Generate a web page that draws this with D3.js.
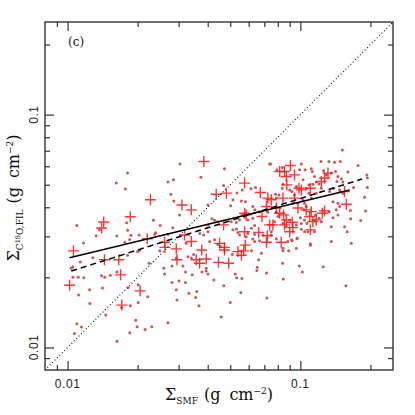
<!DOCTYPE html>
<html>
<head>
<meta charset="utf-8">
<script src="https://cdn.jsdelivr.net/npm/d3@7"></script>
<style>
  body { margin: 0; background: #fff; }
  .tick-label { font-family: "Liberation Sans", Arial, sans-serif; font-size: 12px; fill: #222; letter-spacing: 0.6px; }
  .title { font-family: "DejaVu Serif", serif; font-size: 16px; fill: #111; }
</style>
</head>
<body>
<div id="container"></div>
<script>
// axis ranges and ticks
const xDomain = [0.008, 0.25];
const yDomain = [0.008, 0.25];
const majorTicks = [0.01, 0.1];
const majorLabels = ["0.01", "0.1"];
const minorTicks = [0.009, 0.02, 0.03, 0.04, 0.05, 0.06, 0.07, 0.08, 0.09, 0.2];

// filament pixels: [Sigma_SMF, Sigma_C18O,FIL]
const dotPoints = [
  [0.0181, 0.0561], [0.0162, 0.0508], [0.0177, 0.0479], [0.0270, 0.0514], [0.01096, 0.0334],
  [0.01327, 0.0302], [0.01171, 0.0281], [0.01628, 0.0301], [0.01792, 0.0343], [0.0181, 0.0319],
  [0.01871, 0.0303], [0.0203, 0.0304], [0.0234, 0.0352], [0.0250, 0.0334], [0.0239, 0.0311],
  [0.0237, 0.0306], [0.0185, 0.0291], [0.0176, 0.0283], [0.0270, 0.0306], [0.0137, 0.0320],
  [0.0283, 0.0327], [0.0285, 0.0525], [0.0304, 0.0613], [0.0278, 0.0455], [0.0286, 0.0426],
  [0.0374, 0.0538], [0.0401, 0.0409], [0.0303, 0.0371], [0.01284, 0.0243], [0.01134, 0.0233],
  [0.01054, 0.0222], [0.01037, 0.0219], [0.0181, 0.0249], [0.0204, 0.0261], [0.0200, 0.0258],
  [0.0249, 0.0260], [0.0224, 0.0230], [0.0259, 0.0219], [0.0261, 0.0207], [0.01054, 0.0200],
  [0.01111, 0.0200], [0.01174, 0.0199], [0.0140, 0.0203], [0.01445, 0.0200], [0.01526, 0.0204],
  [0.0163, 0.0211], [0.01243, 0.0177], [0.01413, 0.0180], [0.0182, 0.0181], [0.0201, 0.0186],
  [0.01115, 0.0168], [0.0221, 0.0165], [0.01247, 0.01545], [0.01706, 0.01486], [0.0186, 0.01509],
  [0.0201, 0.0156], [0.01459, 0.01379], [0.01096, 0.01263], [0.01148, 0.01223], [0.01964, 0.01307],
  [0.0199, 0.01226], [0.02154, 0.01195], [0.0230, 0.01226], [0.01071, 0.01148], [0.0185, 0.01155],
  [0.0163, 0.01064], [0.0270, 0.01276], [0.0472, 0.0585], [0.0793, 0.0580], [0.0745, 0.0614],
  [0.0468, 0.0496], [0.0534, 0.0461], [0.0563, 0.0475], [0.0613, 0.0481], [0.0642, 0.0486],
  [0.0782, 0.0455], [0.0788, 0.0438], [0.0513, 0.0431], [0.0558, 0.0426], [0.0502, 0.0406],
  [0.0625, 0.0403], [0.0637, 0.0390], [0.0417, 0.0357], [0.0428, 0.0352], [0.0442, 0.0347],
  [0.0505, 0.0347], [0.0531, 0.0344], [0.0548, 0.0353], [0.0370, 0.0309], [0.0384, 0.0304],
  [0.0401, 0.0314], [0.0513, 0.0320], [0.0539, 0.0312], [0.0548, 0.0304], [0.0595, 0.0309],
  [0.0616, 0.0325], [0.0408, 0.0285], [0.0428, 0.0290], [0.0323, 0.0280], [0.0625, 0.0292],
  [0.0636, 0.0285], [0.0668, 0.0287], [0.1514, 0.0705], [0.1226, 0.0629], [0.1327, 0.0629],
  [0.1402, 0.0625], [0.1485, 0.0629], [0.1768, 0.0605], [0.0993, 0.0580], [0.1049, 0.0580],
  [0.1114, 0.0585], [0.1125, 0.0570], [0.1010, 0.0613], [0.0837, 0.0593], [0.1150, 0.0542],
  [0.1258, 0.0574], [0.1292, 0.0551], [0.1358, 0.0561], [0.1416, 0.0570], [0.1450, 0.0542],
  [0.1600, 0.0567], [0.1932, 0.0551], [0.1940, 0.0534], [0.1500, 0.0530], [0.1436, 0.0516],
  [0.1523, 0.0513], [0.0842, 0.0502], [0.0837, 0.0483], [0.1060, 0.0483], [0.1088, 0.0499],
  [0.1132, 0.0502], [0.1170, 0.0513], [0.1336, 0.0467], [0.1389, 0.0483], [0.1475, 0.0475],
  [0.1693, 0.0486], [0.1940, 0.0486], [0.1887, 0.0442], [0.0900, 0.0475], [0.0920, 0.0467],
  [0.0944, 0.0452], [0.1450, 0.0416], [0.1475, 0.0403], [0.1042, 0.0416], [0.1060, 0.0403],
  [0.1327, 0.0383], [0.1450, 0.0371], [0.1639, 0.0387], [0.1644, 0.0357], [0.1906, 0.0386],
  [0.1162, 0.0371], [0.1150, 0.0353], [0.1000, 0.0361], [0.1042, 0.0353], [0.1067, 0.0341],
  [0.1380, 0.0361], [0.1358, 0.0330], [0.1010, 0.0322], [0.1042, 0.0314], [0.0967, 0.0293],
  [0.0923, 0.0287], [0.1104, 0.0279], [0.1358, 0.0285], [0.1655, 0.0280], [0.0738, 0.0613],
  [0.1816, 0.0351], [0.1230, 0.0347], [0.1202, 0.0359], [0.1036, 0.0390], [0.1078, 0.0314],
  [0.1150, 0.0314], [0.0961, 0.0336], [0.1254, 0.0222], [0.1020, 0.0211], [0.0990, 0.0224],
  [0.1569, 0.0184], [0.0845, 0.0197], [0.0839, 0.0230], [0.0718, 0.0163], [0.0716, 0.0209],
  [0.0650, 0.0214], [0.0653, 0.0221], [0.0555, 0.0172], [0.0525, 0.0207], [0.0532, 0.0199],
  [0.0469, 0.0184], [0.0500, 0.0156], [0.0457, 0.0135], [0.0425, 0.0195], [0.0394, 0.0219],
  [0.0401, 0.0207], [0.0442, 0.0277], [0.0454, 0.0271], [0.0842, 0.0267], [0.0788, 0.0293],
  [0.0750, 0.0304], [0.0636, 0.0306], [0.0585, 0.0299], [0.0531, 0.0323], [0.0884, 0.0285],
  [0.0970, 0.0295], [0.0915, 0.0290], [0.0401, 0.0336], [0.0595, 0.0353], [0.0625, 0.0359],
  [0.0636, 0.0334], [0.0668, 0.0383], [0.0725, 0.0381], [0.0788, 0.0381], [0.1010, 0.0341],
  [0.0281, 0.0224], [0.0313, 0.0224], [0.0321, 0.0211], [0.0329, 0.0245], [0.0340, 0.0242],
  [0.0348, 0.0251], [0.0378, 0.0211], [0.0394, 0.0213], [0.0343, 0.0205], [0.0510, 0.0251],
  [0.0662, 0.0238], [0.0680, 0.0254], [0.0616, 0.0260], [0.0561, 0.0198], [0.0281, 0.0190],
  [0.0301, 0.0193], [0.0321, 0.0190], [0.0293, 0.0177], [0.0332, 0.0171], [0.0355, 0.0164],
  [0.0295, 0.0160], [0.0367, 0.0151], [0.0842, 0.0260], [0.0891, 0.0260], [0.0961, 0.0267],
  [0.1104, 0.0275], [0.0359, 0.0174], [0.0293, 0.0242], [0.1026, 0.0525], [0.1202, 0.0504],
  [0.1230, 0.0483], [0.1170, 0.0460], [0.1088, 0.0460], [0.1114, 0.0438], [0.1026, 0.0431],
  [0.0929, 0.0416], [0.0976, 0.0416], [0.0581, 0.0423], [0.0961, 0.0491], [0.0809, 0.0452],
  [0.0801, 0.0365], [0.0775, 0.0347], [0.0842, 0.0341], [0.0900, 0.0353], [0.0870, 0.0330],
  [0.0750, 0.0314], [0.0690, 0.0304], [0.1523, 0.0460], [0.1380, 0.0423], [0.1548, 0.0330],
  [0.1589, 0.0314], [0.1426, 0.0390]
];

// selected positions, drawn as crosses
const crossPoints = [
  [0.0227, 0.0431], [0.0186, 0.0364], [0.0143, 0.0346], [0.0140, 0.0326], [0.0220, 0.0293],
  [0.0261, 0.0283], [0.0106, 0.0260], [0.0144, 0.0238], [0.0166, 0.0238], [0.0262, 0.0269],
  [0.0169, 0.0205], [0.0102, 0.0185], [0.0205, 0.0175], [0.0171, 0.0152], [0.0385, 0.0629],
  [0.0576, 0.0508], [0.0435, 0.0455], [0.0481, 0.0460], [0.0673, 0.0463], [0.0725, 0.0438],
  [0.0310, 0.0409], [0.0340, 0.0390], [0.0715, 0.0403], [0.0788, 0.0397], [0.0585, 0.0371],
  [0.0684, 0.0365], [0.0738, 0.0336], [0.0468, 0.0336], [0.0318, 0.0304], [0.0340, 0.0285],
  [0.0576, 0.0314], [0.0662, 0.0312], [0.0722, 0.0302], [0.0450, 0.0280], [0.0906, 0.0605],
  [0.0944, 0.0551], [0.0855, 0.0570], [0.0870, 0.0542], [0.1270, 0.0534], [0.1230, 0.0516],
  [0.0875, 0.0499], [0.0986, 0.0483], [0.1010, 0.0475], [0.1104, 0.0483], [0.1548, 0.0467],
  [0.1575, 0.0412], [0.0944, 0.0438], [0.0842, 0.0438], [0.1242, 0.0377], [0.1114, 0.0383],
  [0.1096, 0.0365], [0.0847, 0.0371], [0.0870, 0.0353], [0.0923, 0.0345], [0.0929, 0.0327],
  [0.0855, 0.0336], [0.0900, 0.0314], [0.1132, 0.0347], [0.1104, 0.0320], [0.1270, 0.0386],
  [0.0576, 0.0377], [0.1170, 0.0353], [0.0715, 0.0283], [0.0828, 0.0283], [0.0571, 0.0260],
  [0.0558, 0.0249], [0.0580, 0.0275], [0.0539, 0.0258], [0.0472, 0.0269], [0.0445, 0.0232],
  [0.0492, 0.0230], [0.0394, 0.0240], [0.0293, 0.0265], [0.0295, 0.0238], [0.0377, 0.0262],
  [0.0472, 0.0262], [0.0369, 0.0230], [0.0357, 0.0238], [0.0815, 0.0570], [0.0750, 0.0431],
  [0.0976, 0.0397], [0.1060, 0.0390], [0.1314, 0.0561], [0.0815, 0.0377], [0.0762, 0.0336]
];

// fitted relations: [x0, y0, x1, y1]
const fitSolid = [0.0102, 0.0243, 0.1628, 0.0475];
const fitDashed = [0.01037, 0.0213, 0.1839, 0.0529];

const width = 415, height = 415;
const margin = { top: 22, right: 22, bottom: 45, left: 45 };

const svg = d3.select("#container").append("svg")
  .attr("width", width).attr("height", height);

const x = d3.scaleLog().domain(xDomain).range([margin.left, width - margin.right]);
const y = d3.scaleLog().domain(yDomain).range([height - margin.bottom, margin.top]);
const x0 = margin.left, x1 = width - margin.right, y0 = height - margin.bottom, y1 = margin.top;

// points
svg.append("g").selectAll("circle").data(dotPoints).enter().append("circle")
  .attr("cx", d => x(d[0])).attr("cy", d => y(d[1]))
  .attr("r", 1.5).attr("fill", "#c65858");

const arm = 5.5;
svg.append("g").attr("stroke", "#ff1010").attr("stroke-width", 1.4)
  .attr("stroke-opacity", 0.85)
  .selectAll("path").data(crossPoints).enter().append("path")
  .attr("d", d => {
    const cx = x(d[0]), cy = y(d[1]);
    return `M${cx - arm},${cy}H${cx + arm}M${cx},${cy - arm}V${cy + arm}`;
  });

// one-to-one line
svg.append("line")
  .attr("x1", x(xDomain[0])).attr("y1", y(yDomain[0]))
  .attr("x2", x(xDomain[1])).attr("y2", y(yDomain[1]))
  .attr("stroke", "#111").attr("stroke-width", 1.1).attr("stroke-dasharray", "1,2.4");

svg.append("line")
  .attr("x1", x(fitSolid[0])).attr("y1", y(fitSolid[1]))
  .attr("x2", x(fitSolid[2])).attr("y2", y(fitSolid[3]))
  .attr("stroke", "#000").attr("stroke-width", 1.5);

svg.append("line")
  .attr("x1", x(fitDashed[0])).attr("y1", y(fitDashed[1]))
  .attr("x2", x(fitDashed[2])).attr("y2", y(fitDashed[3]))
  .attr("stroke", "#000").attr("stroke-width", 1.5).attr("stroke-dasharray", "6,4");

// frame and ticks (inward on all four sides)
const axisColor = "#333";
const drawTicks = (sel, axis) => {
  sel.call(axis);
  sel.select(".domain").remove();
  sel.selectAll(".tick line").attr("stroke", axisColor).attr("stroke-width", 1.2);
  sel.selectAll(".tick text").remove();
};
[[majorTicks, 9], [minorTicks, 5]].forEach(([vals, len]) => {
  drawTicks(svg.append("g").attr("transform", `translate(0,${y0})`),
    d3.axisBottom(x).tickValues(vals).tickSize(-len));
  drawTicks(svg.append("g").attr("transform", `translate(0,${y1})`),
    d3.axisTop(x).tickValues(vals).tickSize(-len));
  drawTicks(svg.append("g").attr("transform", `translate(${x0},0)`),
    d3.axisLeft(y).tickValues(vals).tickSize(-len));
  drawTicks(svg.append("g").attr("transform", `translate(${x1},0)`),
    d3.axisRight(y).tickValues(vals).tickSize(-len));
});

svg.append("rect")
  .attr("x", x0).attr("y", y1).attr("width", x1 - x0).attr("height", y0 - y1)
  .attr("fill", "none").attr("stroke", axisColor).attr("stroke-width", 1.4);

// tick labels
svg.append("g").selectAll("text").data(majorTicks).enter().append("text")
  .attr("class", "tick-label")
  .attr("x", d => x(d)).attr("y", y0 + 18)
  .attr("text-anchor", "middle")
  .text((d, i) => majorLabels[i]);

svg.append("g").selectAll("text").data(majorTicks).enter().append("text")
  .attr("class", "tick-label")
  .attr("transform", d => `translate(${x0 - 7},${y(d)}) rotate(-90)`)
  .attr("text-anchor", "middle")
  .text((d, i) => majorLabels[i]);

// axis titles
const xTitle = svg.append("text").attr("class", "title")
  .attr("x", (x0 + x1) / 2).attr("y", 400).attr("text-anchor", "middle");
xTitle.append("tspan").text("Σ");
xTitle.append("tspan").attr("font-size", "9px").attr("dy", 4).text("SMF");
xTitle.append("tspan").attr("dy", -4).attr("dx", 6).text("(g");
xTitle.append("tspan").attr("dx", 9).text("cm");
xTitle.append("tspan").attr("font-size", "9px").attr("dy", -6).text("−2");
xTitle.append("tspan").attr("dy", 6).text(")");

const yTitle = svg.append("text").attr("class", "title")
  .attr("transform", `translate(19,${(y0 + y1) / 2 + 2}) rotate(-90)`)
  .attr("text-anchor", "middle");
yTitle.append("tspan").text("Σ");
yTitle.append("tspan").attr("font-size", "9px").attr("dy", 4).text("C");
yTitle.append("tspan").attr("font-size", "6.5px").attr("dy", -3).text("18");
yTitle.append("tspan").attr("font-size", "9px").attr("dy", 3).text("O,FIL");
yTitle.append("tspan").attr("dy", -4).attr("dx", 6).text("(g");
yTitle.append("tspan").attr("dx", 9).text("cm");
yTitle.append("tspan").attr("font-size", "9px").attr("dy", -6).text("−2");
yTitle.append("tspan").attr("dy", 6).text(")");

svg.append("text")
  .attr("x", x0 + 23).attr("y", y1 + 24)
  .attr("font-family", "DejaVu Serif, serif").attr("font-size", "12px")
  .attr("fill", "#111")
  .text("(c)");
</script>
</body>
</html>
